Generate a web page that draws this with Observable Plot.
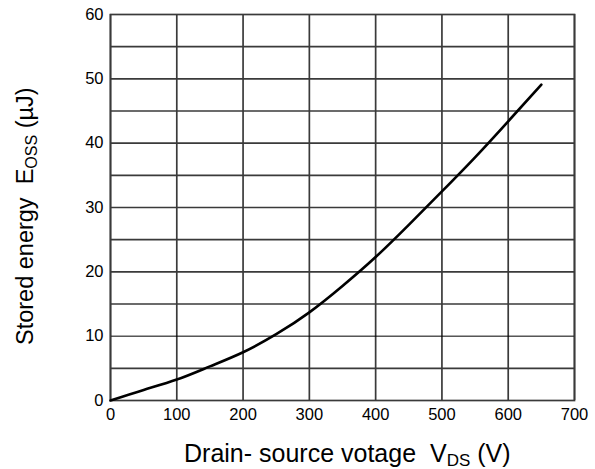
<!DOCTYPE html>
<html>
<head>
<meta charset="utf-8">
<script src="https://cdn.jsdelivr.net/npm/d3@7"></script>
<script src="https://cdn.jsdelivr.net/npm/@observablehq/plot@0.6"></script>
<style>
  html, body { margin: 0; padding: 0; background: #fff; }
</style>
</head>
<body>
<div id="chart"></div>
<script>
// Data
const voltage = [0, 50, 100, 150, 200, 250, 300, 350, 400, 450, 500, 550, 600, 650];
const energy  = [0, 1.65, 3.25, 5.3, 7.5, 10.3, 13.7, 17.8, 22.3, 27.3, 32.5, 37.8, 43.4, 49.1];
const xTicks = [0, 100, 200, 300, 400, 500, 600, 700];
const yTicks = [0, 10, 20, 30, 40, 50, 60];
const yGridThick = [5, 15, 20, 25, 30, 35, 40, 45, 50, 55];
const yGridThin = [10];

const data = voltage.map((v, i) => ({v, e: energy[i]}));
const gridColor = "#3a3a3a";

const chart = Plot.plot({
  width: 595,
  height: 469,
  marginLeft: 110,
  marginTop: 14,
  marginRight: 21,
  marginBottom: 69,
  style: {fontFamily: "'Liberation Sans', Arial, sans-serif", fontSize: "16px", color: "#000", background: "#fff"},
  x: {domain: [0, 700]},
  y: {domain: [0, 60]},
  marks: [
    Plot.gridX(xTicks, {stroke: gridColor, strokeOpacity: 1, strokeWidth: 1.7}),
    Plot.gridY(yGridThick, {stroke: gridColor, strokeOpacity: 1, strokeWidth: 1.7}),
    Plot.gridY(yGridThin, {stroke: "#000", strokeOpacity: 1, strokeWidth: 1}),
    Plot.frame({stroke: gridColor, strokeWidth: 1.7}),
    Plot.line(data, {x: "v", y: "e", stroke: "#000", strokeWidth: 2.6, curve: "natural"}),
    Plot.axisX({ticks: xTicks, tickSize: 0, tickPadding: 8, label: null, fontSize: 16.5, tickFormat: d => String(d)}),
    Plot.axisY({ticks: yTicks, tickSize: 0, tickPadding: 7, label: null, fontSize: 16.5, tickFormat: d => String(d)})
  ]
});

document.getElementById("chart").appendChild(chart);

// Axis titles with subscripts
const svg = d3.select(chart);
const font = "'Liberation Sans', Arial, sans-serif";

const xt = svg.append("text")
  .attr("x", 184).attr("y", 462)
  .attr("text-anchor", "start")
  .attr("font-family", font).attr("font-size", 25).attr("fill", "#000")
  .attr("xml:space", "preserve").style("white-space", "pre");
xt.append("tspan").text("Drain- source votage  V");
xt.append("tspan").attr("font-size", 17).attr("dy", 4).text("DS");
xt.append("tspan").attr("dy", -4).text(" (V)");

const yt = svg.append("text")
  .attr("transform", "translate(33,345) rotate(-90)")
  .attr("text-anchor", "start")
  .attr("font-family", font).attr("font-size", 23.5).attr("fill", "#000")
  .attr("xml:space", "preserve").style("white-space", "pre");
yt.append("tspan").text("Stored energy  E");
yt.append("tspan").attr("font-size", 16).attr("dy", 4).text("OSS");
yt.append("tspan").attr("dy", -4).text(" (µJ)");
</script>
</body>
</html>
